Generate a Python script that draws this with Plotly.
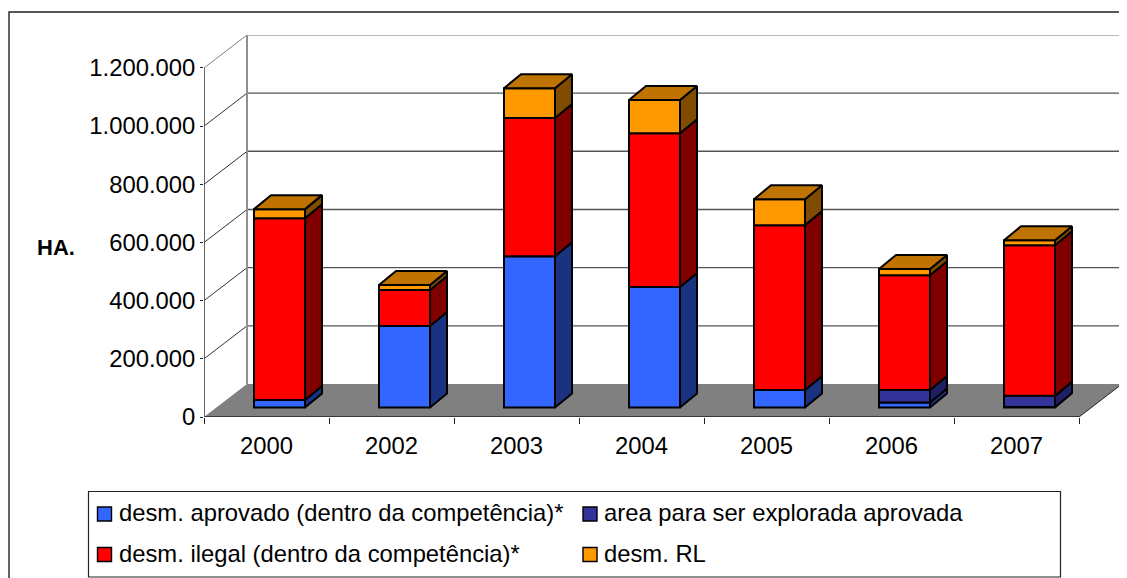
import plotly.graph_objects as go

YEARS = ["2000", "2002", "2003", "2004", "2005", "2006", "2007"]
APROVADO = [26000, 280000, 520000, 414000, 60000, 17000, 2000]
AREA = [0, 0, 0, 0, 0, 43000, 38000]
ILEGAL = [625000, 124000, 475000, 529000, 567000, 395000, 518000]
RL = [31000, 17000, 103000, 114000, 89000, 21000, 17000]
NAMES = ["desm. aprovado (dentro da competência)*", "area para ser explorada aprovada",
         "desm. ilegal (dentro da competência)*", "desm. RL"]
FRONT = ["#3366ff", "#333399", "#ff0000", "#ff9900"]
SIDE = ["#1a3380", "#1f1f66", "#800000", "#804d00"]
TOP = "#bf7300"
YTICKS = [0, 200000, 400000, 600000, 800000, 1000000, 1200000]

PAGE = 8                   # page margin around the figure
W, H = 1127 - PAGE, 578 - PAGE
PLOT_L, PLOT_R, PLOT_T, PLOT_B = 204, 1122, 35, 417
XU = 125.0                 # px per category
YU = 58.17 / 200000        # px per value
WALL_DX, WALL_DY = 43 / XU, 33 / YU
BAR_DX, BAR_DY = 17 / XU, 14 / YU
BAR_W = 51 / XU
BAR_X = 13 / XU
BAR_BASE = 9.5 / YU
X0, X1 = -0.5, 6.5
XMAX = X1 + WALL_DX
YMAX = (PLOT_B - PLOT_T) / YU
FONT = "Liberation Sans"
EDGE = dict(color="black", width=2)
SIZE = 23.8

fig = go.Figure()
series = [APROVADO, AREA, ILEGAL, RL]
xs = [i + BAR_X for i in range(len(YEARS))]
cum = [BAR_BASE] * len(YEARS)
side_traces = []
for name, vals, fc, sc in zip(NAMES, series, FRONT, SIDE):
    fig.add_bar(x=xs, y=vals, base=list(cum), width=BAR_W, name=name, showlegend=False,
                marker=dict(color=fc, line=EDGE))
    sx, sy = [], []
    for i, v in enumerate(vals):
        if v <= 0:
            continue
        r = xs[i] + BAR_W / 2
        sx += [r, r + BAR_DX, r + BAR_DX, r, r, None]
        sy += [cum[i], cum[i] + BAR_DY, cum[i] + v + BAR_DY, cum[i] + v, cum[i], None]
    side_traces.append(go.Scatter(x=sx, y=sy, mode="lines", fill="toself", fillcolor=sc,
                                  line=EDGE, showlegend=False,
                                  hoverinfo="skip", cliponaxis=False))
    cum = [c + v for c, v in zip(cum, vals)]
tx, ty = [], []
for i, c in enumerate(cum):
    l, r = xs[i] - BAR_W / 2, xs[i] + BAR_W / 2
    tx += [l, r, r + BAR_DX, l + BAR_DX, l, None]
    ty += [c, c, c + BAR_DY, c + BAR_DY, c, None]
side_traces.append(go.Scatter(x=tx, y=ty, mode="lines", fill="toself", fillcolor=TOP,
                              line=EDGE, showlegend=False,
                              hoverinfo="skip", cliponaxis=False))
for t in side_traces:
    fig.add_trace(t)

shapes = []
def line(x0, y0, x1, y1, color, width):
    shapes.append(dict(type="line", xref="x", yref="y", x0=x0, y0=y0, x1=x1, y1=y1,
                       line=dict(color=color, width=width), layer="below"))
for tv in YTICKS[1:]:
    is_top = tv == YTICKS[-1]
    line(X0 + WALL_DX, tv + WALL_DY, X1 + WALL_DX, tv + WALL_DY, "#a0a0a0" if is_top else "#555555", 1.4)
    line(X0, tv, X0 + WALL_DX, tv + WALL_DY, "#808080" if is_top else "#333333", 1)
line(X0 + WALL_DX, WALL_DY, X0 + WALL_DX, YTICKS[-1] + WALL_DY, "#909090", 2)
line(X1 + WALL_DX, WALL_DY, X1 + WALL_DX, YTICKS[-1] + WALL_DY, "#a0a0a0", 2)
shapes.append(dict(type="path", xref="x", yref="y", layer="below",
                   path=f"M{X0},0 L{X1},0 L{X1 + WALL_DX},{WALL_DY} L{X0 + WALL_DX},{WALL_DY} Z",
                   fillcolor="#808080", line=dict(width=0)))
line(X1, 0, X1 + WALL_DX, WALL_DY, "#222222", 1)
line(X0, 0, X1, 0, "#222222", 1.6)
line(X0, 0, X0, YTICKS[-1], "#404040", 1.6)

# page-pixel helpers for frame, legend and axis title
def px(x): return (x - PLOT_L) / (PLOT_R - PLOT_L)
def py(y): return 1 - (y - PLOT_T) / (PLOT_B - PLOT_T)
def rect(x0, y0, x1, y1, fill, lc, lw):
    shapes.append(dict(type="rect", xref="paper", yref="paper", x0=px(x0), x1=px(x1), y0=py(y0), y1=py(y1),
                       fillcolor=fill, line=dict(color=lc, width=lw), layer="above"))
shapes.append(dict(type="rect", xref="paper", yref="paper", x0=px(9), x1=px(1140), y0=py(12), y1=py(600),
                   line=dict(color="#222222", width=1.4), layer="below"))
rect(88.5, 491.5, 1060.5, 577, "white", "#222222", 1.2)

annotations = [dict(text="<b>HA.</b>", xref="paper", yref="paper", x=px(55.5), y=py(247),
                    xanchor="center", yanchor="middle", showarrow=False, font=dict(size=22))]
LEG_POS = [(97.5, 514, 118.5, 512), (583, 514, 604, 512), (97.5, 554.5, 118.5, 553), (583, 554.5, 604, 553)]
for (sx0, sy0, lx, ly), name, color in zip(LEG_POS, NAMES, FRONT):
    rect(sx0, sy0 - 7, sx0 + 14, sy0 + 7, color, "black", 1.4)
    annotations.append(dict(text=name, xref="paper", yref="paper", x=px(lx), y=py(ly), xanchor="left",
                            yanchor="middle", xshift=-2, showarrow=False, font=dict(size=SIZE)))

fig.update_layout(
    width=W, height=H, autosize=False, barmode="overlay", separators=",.", showlegend=False,
    margin=dict(l=PLOT_L - PAGE, r=W - (PLOT_R - PAGE), t=PLOT_T - PAGE, b=H - (PLOT_B - PAGE), autoexpand=False),
    paper_bgcolor="white", plot_bgcolor="rgba(0,0,0,0)",
    font=dict(family=FONT, size=SIZE, color="black"),
    shapes=shapes, annotations=annotations,
    xaxis=dict(range=[X0, XMAX], tickmode="array", tickvals=list(range(len(YEARS))), ticktext=YEARS,
               ticks="", ticklen=0, showgrid=False, zeroline=False, showline=False,
               ticklabelstandoff=12, tickfont=dict(size=SIZE),
               minor=dict(tickmode="array", tickvals=[X0 + i for i in range(len(YEARS) + 1)],
                          ticks="outside", ticklen=6, tickcolor="#222222", tickwidth=1, showgrid=False)),
    yaxis=dict(range=[0, YMAX], tickmode="array", tickvals=YTICKS, tickformat=",d", ticks="outside",
               ticklen=3, tickcolor="#222222", showgrid=False, zeroline=False, showline=False,
               ticklabelstandoff=0, tickfont=dict(size=SIZE)),
)
fig.write_html("out.html")
